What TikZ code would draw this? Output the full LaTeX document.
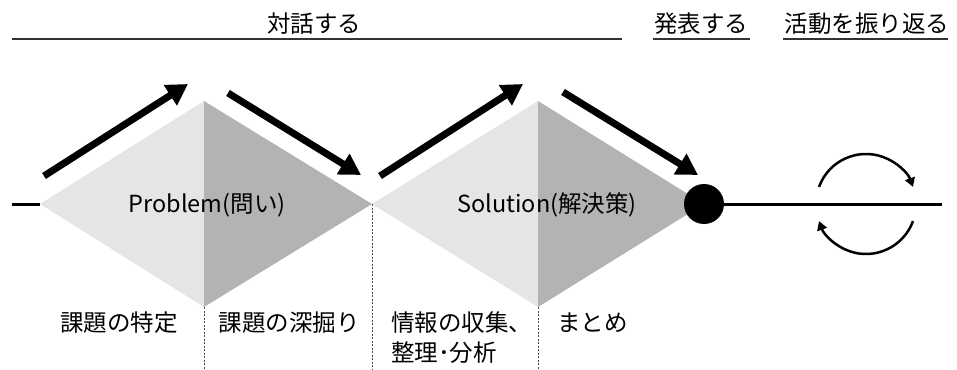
\documentclass[tikz,border=0pt]{standalone}
\usepackage{fontspec}
\setmainfont{Noto Sans CJK JP}
\usetikzlibrary{arrows.meta}
\definecolor{lightg}{HTML}{E5E5E5}
\definecolor{darkg}{HTML}{B3B3B3}
\definecolor{ulc}{HTML}{333333}
\tikzset{
  bigarrow/.style={line width=7pt,-{Triangle[length=21pt,width=23pt]}},
  guide/.style={line width=0.8pt,draw=black!70,dash pattern=on 2pt off 1.5pt},
  lbl/.style={font=\fontsize{23.5}{28}\selectfont,inner sep=0pt},
  head/.style={font=\fontsize{23.5}{28}\selectfont,inner sep=0pt},
  uline/.style={line width=1.4pt,draw=ulc},
  cyc/.style={line width=2.5pt,-{Triangle[length=9pt,width=10pt]}},
}
\begin{document}
\begin{tikzpicture}[x=1pt,y=-1pt]
\useasboundingbox (0,0) rectangle (957,369);
% diamond points
\coordinate (L1) at (40,204);
\coordinate (T1) at (204,101);
\coordinate (R1) at (372,204);
\coordinate (B1) at (204,307);
\coordinate (T2) at (538,101);
\coordinate (R2) at (704,204);
\coordinate (B2) at (538,307);
\coordinate (D1) at (204,369);
\coordinate (D2) at (372,369);
\coordinate (D3) at (538,369);
\fill[lightg] (L1) -- (T1) -- (B1) -- cycle;
\fill[darkg] (T1) -- (R1) -- (B1) -- cycle;
\fill[lightg] (R1) -- (T2) -- (B2) -- cycle;
\fill[darkg] (T2) -- (R2) -- (B2) -- cycle;
% dotted guides
\draw[guide] (B1) -- (D1);
\draw[guide] (R1) -- (D2);
\draw[guide] (B2) -- (D3);
% left stub and right line
\coordinate (s0) at (12,204);
\draw[line width=3pt] (s0) -- (L1);
\node[circle,fill=black,minimum size=40pt,inner sep=0pt] (dot) at (R2) {};
\coordinate (end) at (942,204);
\draw[line width=3pt] (dot.east) -- (end);
% big arrows
\coordinate (a1s) at (44,176); \coordinate (a1e) at (188,84);
\coordinate (a2s) at (228,93); \coordinate (a2e) at (361,175);
\coordinate (a3s) at (380,176); \coordinate (a3e) at (523,84);
\coordinate (a4s) at (563,92); \coordinate (a4e) at (698,175);
\draw[bigarrow] (a1s) -- (a1e);
\draw[bigarrow] (a2s) -- (a2e);
\draw[bigarrow] (a3s) -- (a3e);
\draw[bigarrow] (a4s) -- (a4e);
% cycle
\coordinate (C) at (866,204);
\draw[cyc] ([shift={(160:50pt)}]C) arc[start angle=160,end angle=20,radius=50pt];
\draw[cyc] ([shift={(-20:50pt)}]C) arc[start angle=-20,end angle=-160,radius=50pt];
% diamond labels
\node[lbl] (p) at (207,205) {Problem(問い)};
\node[lbl] (s) at (547,205) {Solution(解決策)};
% bottom labels
\node[lbl] (b1) at (119,323) {課題の特定};
\node[lbl] (b2) at (289,323) {課題の深掘り};
\node[lbl,anchor=west] (b3) at (391,323) {情報の収集、};
\node[lbl,anchor=west] (b3b) at (391,353) {整理･分析};
\node[lbl,anchor=west] (b4) at (557,323) {まとめ};
% top labels
\node[head] (h1) at (314,24) {対話する};
\node[head] (h2) at (701,24) {発表する};
\node[head] (h3) at (867,24) {活動を振り返る};
\coordinate (u1a) at (12,39); \coordinate (u1b) at (622,39);
\coordinate (u2a) at (653,39); \coordinate (u2b) at (750,39);
\coordinate (u3a) at (783,39); \coordinate (u3b) at (948,39);
\draw[uline] (u1a) -- (u1b);
\draw[uline] (u2a) -- (u2b);
\draw[uline] (u3a) -- (u3b);
\end{tikzpicture}
\end{document}
